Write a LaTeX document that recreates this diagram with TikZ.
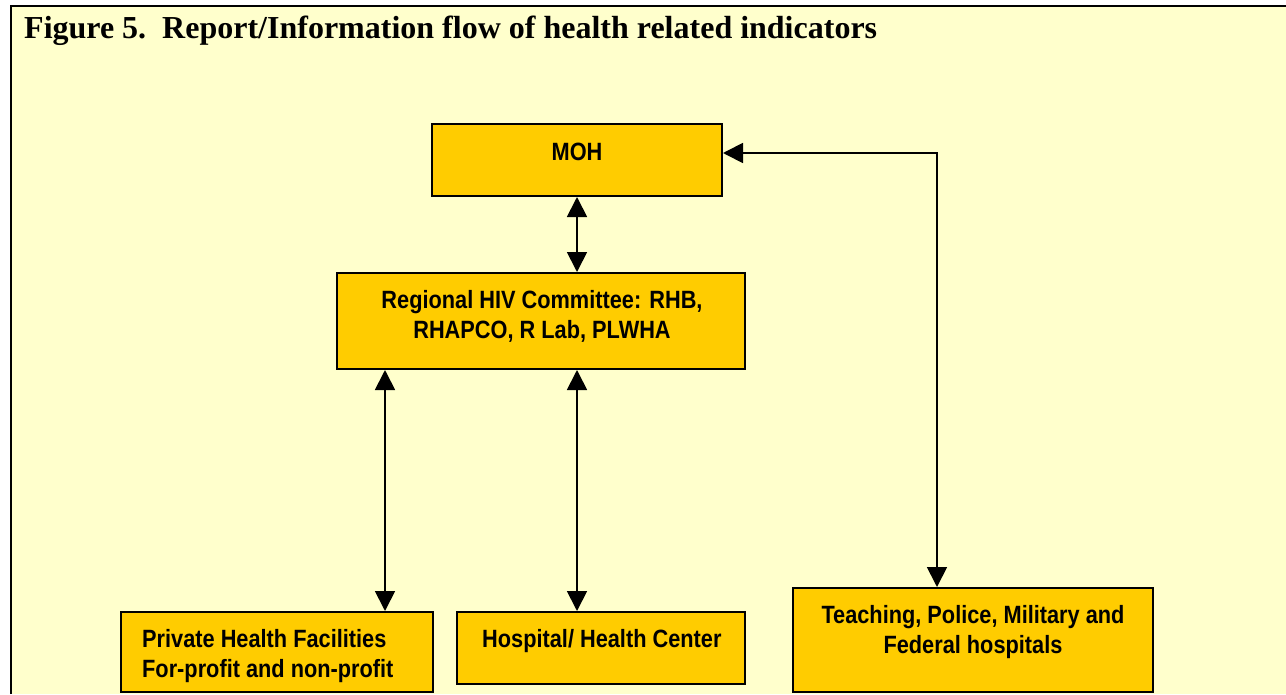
\documentclass[tikz,border=0pt]{standalone}
\usepackage{fontspec}
\setmainfont{Liberation Serif}
\newfontfamily\boxfont[FakeStretch=0.87]{Liberation Sans}
\usetikzlibrary{arrows.meta}
\definecolor{panel}{HTML}{FFFFCC}
\definecolor{boxfill}{HTML}{FFCC00}
\tikzset{
  box/.style={draw=black, line width=2pt, fill=boxfill, rectangle, inner sep=0pt},
  lbl/.style={inner sep=0pt, anchor=base, font=\boxfont\bfseries\fontsize{25}{30}\selectfont},
  lblw/.style={lbl, anchor=base west},
  link/.style={line width=1.8pt, {Triangle[length=20pt,width=20pt]}-{Triangle[length=20pt,width=20pt]}}
}
\begin{document}
\begin{tikzpicture}[x=1pt,y=-1pt]
  \useasboundingbox (0,0) rectangle (1286,694);
  \fill[white] (0,0) rectangle (1286,694);
  % panel background and frame
  \fill[panel] (11,6) rectangle (1286,694);
  \draw[line width=2.6pt] (11,694) -- (11,6) -- (1286,6);
  \node[anchor=base west, inner sep=0pt, font=\bfseries\fontsize{32}{36}\selectfont] (title) at (24,38)
    {Figure 5.\ \ Report/Information flow of health related indicators};

  % boxes
  \node[box, minimum width=290pt, minimum height=72pt] (moh) at (577,160) {};
  \node[box, minimum width=408pt, minimum height=96pt] (reg) at (541,321) {};
  \node[box, minimum width=312pt, minimum height=80pt] (priv) at (277,652) {};
  \node[box, minimum width=288pt, minimum height=72pt] (hosp) at (601,648) {};
  \node[box, minimum width=360pt, minimum height=104pt] (teach) at (973,640) {};

  % box texts
  \node[lbl] (mohT) at (577,160) {MOH};
  \node[lbl] (regT1) at (542,308) {Regional HIV Committee: RHB,};
  \node[lbl] (regT2) at (542,338) {RHAPCO, R Lab, PLWHA};
  \node[lblw] (privT1) at (142,647) {Private Health Facilities};
  \node[lblw] (privT2) at (142,677) {For-profit and non-profit};
  \node[lblw] (hospT) at (482,647) {Hospital/ Health Center};
  \node[lbl] (teachT1) at (973,623) {Teaching, Police, Military and};
  \node[lbl] (teachT2) at (973,653) {Federal hospitals};

  % connector columns
  \coordinate (cPriv) at (385,0);
  \coordinate (cMid) at (577,0);
  \coordinate (cRight) at (937,0);
  \coordinate (cTop) at (0,153);

  % connectors
  \draw[link] (moh.south -| cMid) -- (reg.north -| cMid);
  \draw[link] (reg.south -| cPriv) -- (priv.north -| cPriv);
  \draw[link] (reg.south -| cMid) -- (hosp.north -| cMid);
  \draw[link] (teach.north -| cRight) -- (cRight |- cTop) -- (moh.east |- cTop);
\end{tikzpicture}
\end{document}
